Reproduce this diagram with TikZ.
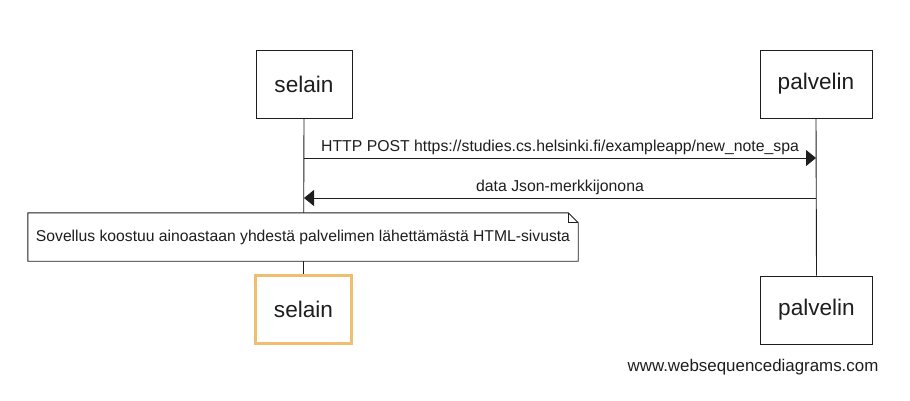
\documentclass[tikz,border=0pt]{standalone}
\usepackage{fontspec}
\setmainfont{Liberation Sans}
\usetikzlibrary{arrows.meta,backgrounds}
\definecolor{ink}{RGB}{30,30,30}
\definecolor{actorhl}{RGB}{240,190,110}
\tikzset{
  participant/.style={draw=ink, line width=0.9pt, fill=white, minimum height=68pt,
    font=\fontsize{22.6}{26}\selectfont, text=ink, inner sep=0pt},
  lifeline/.style={draw=ink, line width=0.9pt},
  msg/.style={draw=ink, line width=0.9pt, -{Triangle[length=10pt,width=16pt]}},
  msglabel/.style={font=\fontsize{15.8}{18}\selectfont, text=ink, above, inner sep=0pt, yshift=3pt},
  notetext/.style={font=\fontsize{15.7}{18}\selectfont, text=ink, inner sep=0pt},
  notebox/.style={draw=ink, line width=0.9pt, fill=white},
}
\begin{document}
\begin{tikzpicture}[x=1pt,y=-1pt]
\useasboundingbox (0,0) rectangle (910,401);
% participants
\node[participant, minimum width=96pt] (s1) at (304,84) {selain};
\node[participant, minimum width=112pt] (p1) at (816,84) {palvelin};
\node[participant, minimum width=96pt, draw=actorhl, line width=2.2pt] (s2) at (303.5,309.5) {selain};
\node[participant, minimum width=112pt] (p2) at (816.5,310) {palvelin};
% note
\node[notetext, minimum width=550pt, minimum height=48pt] (note) at (303,237)
  {Sovellus koostuu ainoastaan yhdestä palvelimen lähettämästä HTML-sivusta};
\begin{scope}[on background layer]
  \fill[white] (0,0) rectangle (910,401);
  \draw[lifeline] (s1.south) -- (s2.north);
  \draw[lifeline] (p1.south) -- (p2.north);
  \draw[notebox] (note.south west) -- (note.south east) -- ([yshift=-10pt]note.north east)
     -- ([xshift=-10pt]note.north east) -- (note.north west) -- cycle;
  \draw[lifeline] ([xshift=-10pt]note.north east) -- ([xshift=-10pt,yshift=-10pt]note.north east)
     -- ([yshift=-10pt]note.north east);
\end{scope}
% messages
\coordinate (m1) at (0,158);
\coordinate (m2) at (0,198);
\draw[msg] (m1 -| s1.south) -- (m1 -| p1.south)
  node[msglabel, midway] {HTTP POST https://studies.cs.helsinki.fi/exampleapp/new\_note\_spa};
\draw[msg] (m2 -| p1.south) -- (m2 -| s1.south)
  node[msglabel, midway] {data Json-merkkijonona};
% footer
\node[font=\fontsize{16.9}{20}\selectfont, text=ink, inner sep=0pt] (footer) at (753,367) {www.websequencediagrams.com};
\end{tikzpicture}
\end{document}
